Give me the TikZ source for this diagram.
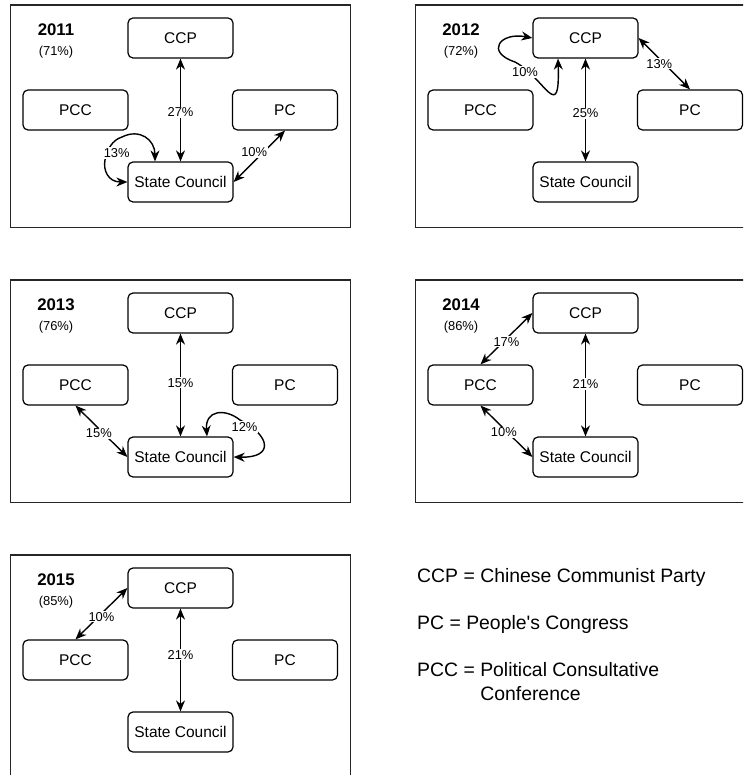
\documentclass[tikz,border=0pt]{standalone}
\usepackage{fontspec}
\setmainfont{Liberation Sans}
\usetikzlibrary{arrows.meta}
\tikzset{
 box/.style={draw, rounded corners=5pt, minimum width=105pt, minimum height=40pt, line width=1.2pt, font=\fontsize{15.5}{18}\selectfont, inner sep=0pt},
 frame/.style={draw=black!85, line width=1.3pt},
 conn/.style={line width=1.4pt, {Stealth[length=11pt,width=9pt,inset=3.5pt]}-{Stealth[length=11pt,width=9pt,inset=3.5pt]}},
 lbl/.style={fill=white, inner sep=1pt, font=\fontsize{12.9}{15}\selectfont},
 yearlbl/.style={font=\fontsize{16.8}{20}\selectfont\bfseries},
 sublbl/.style={font=\fontsize{12.9}{15}\selectfont},
 legendtxt/.style={anchor=base west, inner sep=0pt, font=\fontsize{19.4}{23}\selectfont},
}
\newcommand\drawpanel[3]{%
 \draw[frame] (10.5,5) rectangle (350.5,227.5);
 \node[yearlbl] (yr#1) at (56,30) {#2};
 \node[sublbl] (pct#1) at (56,52) {(#3\%)};
 \node[box] (ccp#1) at (180.5,38) {CCP};
 \node[box] (pcc#1) at (75.5,110) {PCC};
 \node[box] (pc#1) at (285,110) {PC};
 \node[box] (sc#1) at (180.5,182) {State Council};
}
\begin{document}
\begin{tikzpicture}[x=1pt,y=-1pt]
\useasboundingbox (0,0) rectangle (743,775);
\clip (0,0) rectangle (743,775);
% 2011
\begin{scope}
 \drawpanel{a}{2011}{71}
 \draw[conn] (ccpa) -- (sca) node[lbl,pos=0.52]{27\%};
 \draw[conn] (sca.east) -- (pca.south) node[lbl,pos=0.4,yshift=9pt]{10\%};
 \draw[conn] (sca.west) .. controls (108,182) and (103,170) .. (105,160) .. controls (107,150) and (112,140) .. (122,137) .. controls (140,128) and (155,140) .. ([xshift=-25.5pt]sca.north);
 \node[lbl] (l13a) at (116.7,153) {13\%};
\end{scope}
% 2012
\begin{scope}[shift={(405,0)}]
 \drawpanel{b}{2012}{72}
 \draw[conn] (ccpb) -- (scb) node[lbl,pos=0.53]{25\%};
 \draw[conn] (ccpb.east) -- (pcb.north) node[lbl,pos=0.5,xshift=-5pt]{13\%};
 \draw[conn] (ccpb.west) .. controls (95,32) and (80,52) .. (110,62) .. controls (140,78) and (155,125) .. ([xshift=-27.5pt]ccpb.south);
 \node[lbl] (l10b) at (120,72) {10\%};
\end{scope}
% 2013
\begin{scope}[shift={(0,275)}]
 \drawpanel{c}{2013}{76}
 \draw[conn] (ccpc) -- (scc) node[lbl,pos=0.48]{15\%};
 \draw[conn] (pccc.south) -- (scc.west) node[lbl,pos=0.45,yshift=-4.5pt]{15\%};
 \draw[conn] ([xshift=26.5pt]scc.north) .. controls (205,135) and (225,133) .. (240,145) .. controls (270,160) and (275,183) .. (scc.east);
 \node[lbl] (l12c) at (244.5,152) {12\%};
\end{scope}
% 2014
\begin{scope}[shift={(405,275)}]
 \drawpanel{d}{2014}{86}
 \draw[conn] (ccpd) -- (scd) node[lbl,pos=0.49]{21\%};
 \draw[conn] (ccpd.west) -- (pccd.north) node[lbl,pos=0.5,yshift=-3pt]{17\%};
 \draw[conn] (pccd.south) -- (scd.west) node[lbl,pos=0.45,yshift=-3.5pt]{10\%};
\end{scope}
% 2015
\begin{scope}[shift={(0,550)}]
 \drawpanel{e}{2015}{85}
 \draw[conn] (ccpe) -- (sce) node[lbl,pos=0.45]{21\%};
 \draw[conn] (ccpe.west) -- (pcce.north) node[lbl,pos=0.5,yshift=-3pt]{10\%};
\end{scope}
% legend
\node[legendtxt] (lg1) at (417,582) {CCP = Chinese Communist Party};
\node[legendtxt] (lg2) at (417,629) {PC = People\textquotesingle s Congress};
\node[legendtxt] (lg3) at (417,676) {PCC = Political Consultative};
\node[legendtxt] (lg4) at (417,700) {\phantom{PCC =} Conference};
\end{tikzpicture}
\end{document}
